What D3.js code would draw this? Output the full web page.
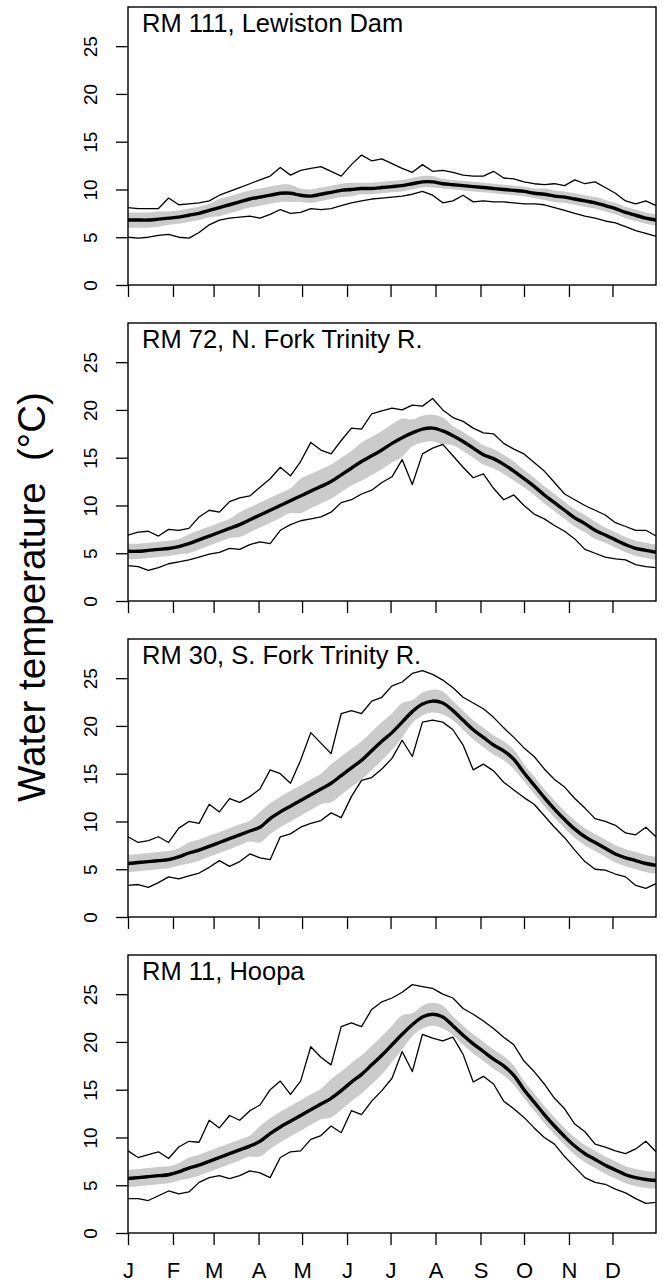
<!DOCTYPE html>
<html>
<head>
<meta charset="utf-8">
<script src="https://cdn.jsdelivr.net/npm/d3@7"></script>
<style>
  html, body { margin: 0; padding: 0; background: #ffffff; }
  svg { display: block; font-family: "Liberation Sans", Arial, sans-serif; }
</style>
</head>
<body>
<svg id="chart" width="662" height="1283"></svg>
<script>
// --- Data (weekly readings, day 1, 8, 15 ... 365) ---
var DAYS = d3.range(1, 366, 7);

var MONTH_LABELS = ['J', 'F', 'M', 'A', 'M', 'J', 'J', 'A', 'S', 'O', 'N', 'D'];
var MONTH_DAYS   = [1, 32, 60, 91, 121, 152, 182, 213, 244, 274, 305, 335];
var Y_TICKS      = [0, 5, 10, 15, 20, 25];

var TITLES = [
  'RM 111, Lewiston Dam',
  'RM 72, N. Fork Trinity R.',
  'RM 30, S. Fork Trinity R.',
  'RM 11, Hoopa'
];

// RM 111, Lewiston Dam
var lewistonMean = [6.8,6.8,6.8,6.9,7.0,7.1,7.3,7.5,7.8,8.1,8.4,8.7,9.0,9.2,9.4,9.6,9.6,9.4,9.3,9.5,9.7,9.9,10.0,10.1,10.1,10.2,10.3,10.4,10.6,10.8,10.8,10.6,10.5,10.4,10.3,10.2,10.1,10.0,9.9,9.8,9.6,9.5,9.3,9.2,9.0,8.8,8.6,8.3,8.0,7.6,7.3,7.0,6.8];
var lewistonMax  = [8.1,8.0,8.0,8.0,9.1,8.4,8.5,8.6,8.8,9.4,9.8,10.2,10.6,11.0,11.4,12.3,11.5,12.0,12.2,12.4,11.9,11.4,12.6,13.6,13.0,13.2,12.7,12.2,11.8,12.6,11.9,12.0,11.8,11.5,11.4,11.4,11.9,11.2,11.1,10.8,10.6,10.5,10.6,10.4,11.0,10.6,10.8,10.2,9.6,8.8,8.5,8.8,8.3];
var lewistonMin  = [5.0,4.9,5.0,5.2,5.3,5.0,4.9,5.5,6.3,6.8,7.0,7.1,7.2,7.0,7.4,7.9,7.5,7.6,8.0,7.9,8.0,8.3,8.6,8.8,9.0,9.1,9.2,9.3,9.5,9.8,9.4,8.6,8.8,9.4,8.7,8.8,8.7,8.7,8.6,8.5,8.5,8.4,8.1,7.8,7.5,7.2,7.0,6.7,6.5,6.1,5.7,5.4,5.1];
var lewistonHi   = [7.6,7.6,7.6,7.7,7.7,7.8,8.0,8.2,8.5,9.0,9.3,9.6,9.9,10.1,10.3,10.5,10.5,10.1,10.0,10.2,10.4,10.6,10.7,10.7,10.7,10.8,10.9,11.0,11.2,11.4,11.4,11.1,11.0,10.9,10.8,10.7,10.6,10.5,10.4,10.3,10.1,10.1,9.9,9.8,9.6,9.4,9.2,8.9,8.6,8.2,7.9,7.6,7.4];
var lewistonLo   = [6.0,6.0,6.0,6.1,6.3,6.4,6.6,6.8,7.1,7.2,7.5,7.8,8.1,8.3,8.5,8.7,8.7,8.7,8.6,8.8,9.0,9.2,9.3,9.5,9.5,9.6,9.7,9.8,10.0,10.2,10.2,10.1,10.0,9.9,9.8,9.7,9.6,9.5,9.4,9.3,9.1,8.9,8.7,8.6,8.4,8.2,8.0,7.7,7.4,7.0,6.7,6.4,6.2];

// RM 72, N. Fork Trinity R.
var nforkMean = [5.2,5.2,5.3,5.4,5.5,5.7,6.0,6.4,6.8,7.2,7.6,8.0,8.5,9.0,9.5,10.0,10.5,11.0,11.5,12.0,12.5,13.2,13.9,14.6,15.2,15.8,16.5,17.1,17.6,18.0,18.1,17.8,17.3,16.7,16.0,15.3,14.9,14.3,13.6,12.8,12.0,11.1,10.3,9.5,8.7,8.1,7.4,6.9,6.4,5.9,5.5,5.3,5.1];
var nforkMax  = [6.9,7.2,7.3,6.8,7.5,7.4,7.6,8.8,9.5,9.3,10.4,10.8,11.0,11.9,12.8,14.0,13.1,14.6,16.6,15.8,15.4,16.8,18.1,18.0,19.6,19.9,20.2,20.0,20.5,20.4,21.2,20.0,19.2,18.8,18.1,17.6,17.5,16.5,15.9,15.4,14.5,13.6,12.4,11.2,10.6,10.0,9.5,9.0,8.2,7.8,7.4,7.4,6.8];
var nforkMin  = [3.7,3.6,3.2,3.5,3.9,4.1,4.3,4.6,4.9,5.1,5.5,5.4,5.9,6.2,6.0,7.4,8.0,8.4,8.6,8.8,9.3,10.3,10.6,11.2,11.6,12.4,13.0,14.8,12.2,15.4,16.0,16.4,15.2,14.0,12.9,13.3,11.8,10.6,11.1,10.0,9.1,8.6,7.9,7.3,6.5,5.4,5.0,4.6,4.4,4.3,3.8,3.6,3.5];
var nforkHi   = [6.0,6.0,6.1,6.2,6.3,6.5,7.0,7.4,7.8,8.2,8.6,9.3,9.8,10.3,10.8,11.3,11.8,12.8,13.3,13.8,14.3,15.0,15.7,16.6,17.2,17.8,18.5,19.1,19.0,19.4,19.5,19.2,18.3,17.7,17.0,16.3,15.9,15.3,14.6,13.7,12.9,12.0,11.2,10.4,9.6,9.0,8.3,7.7,7.2,6.7,6.3,6.1,5.9];
var nforkLo   = [4.4,4.4,4.5,4.6,4.7,4.9,5.0,5.4,5.8,6.2,6.6,6.7,7.2,7.7,8.2,8.7,9.2,9.2,9.7,10.2,10.7,11.4,12.1,12.6,13.2,13.8,14.5,15.1,16.2,16.6,16.7,16.4,16.3,15.7,15.0,14.3,13.9,13.3,12.6,11.9,11.1,10.2,9.4,8.6,7.8,7.2,6.5,6.1,5.6,5.1,4.7,4.5,4.3];

// RM 30, S. Fork Trinity R.
var sforkMean = [5.6,5.7,5.8,5.9,6.0,6.3,6.7,7.0,7.4,7.8,8.2,8.6,9.0,9.4,10.3,11.0,11.6,12.2,12.8,13.4,14.0,14.8,15.6,16.4,17.4,18.4,19.3,20.4,21.5,22.3,22.6,22.4,21.6,20.6,19.6,18.8,18.0,17.4,16.5,15.1,13.8,12.5,11.3,10.2,9.2,8.4,7.8,7.2,6.6,6.2,5.9,5.6,5.4];
var sforkMax  = [8.4,7.8,8.0,8.4,7.8,9.3,10.0,9.8,11.8,11.0,12.4,12.0,12.6,13.4,15.4,15.0,14.0,16.4,19.3,18.2,17.1,21.3,21.6,21.3,22.6,23.0,24.2,24.6,25.5,25.8,25.4,24.8,24.0,23.0,22.4,21.8,20.9,19.8,18.8,17.7,16.8,15.5,14.4,13.6,12.4,11.4,10.3,10.0,9.6,8.8,8.6,9.4,8.4];
var sforkMin  = [3.3,3.4,3.1,3.6,4.2,4.0,4.3,4.6,5.2,5.9,5.3,5.8,6.6,6.2,6.0,8.4,8.7,9.4,9.8,10.1,10.9,10.4,12.6,14.3,14.6,15.5,16.6,18.5,16.8,20.4,20.6,20.4,19.6,18.0,15.4,16.0,15.3,14.1,13.3,12.5,11.8,10.6,9.4,8.3,7.0,5.8,5.0,4.9,4.5,4.2,3.3,3.0,3.5];
var sforkHi   = [6.5,6.6,6.7,6.8,6.9,7.2,7.8,8.1,8.5,8.9,9.3,9.7,10.1,11.0,11.9,12.6,13.2,13.8,14.4,15.0,16.0,16.8,17.6,18.4,19.4,20.4,21.3,22.4,22.7,23.5,23.8,23.6,22.6,21.6,20.6,19.8,19.0,18.4,17.5,16.0,14.7,13.4,12.2,11.1,10.1,9.3,8.7,8.1,7.5,7.1,6.8,6.5,6.3];
var sforkLo   = [4.7,4.8,4.9,5.0,5.1,5.4,5.6,5.9,6.3,6.7,7.1,7.5,7.9,7.8,8.7,9.4,10.0,10.6,11.2,11.8,12.0,12.8,13.6,14.4,15.4,16.4,17.5,18.8,20.3,21.1,21.4,21.2,20.6,19.6,18.6,17.8,17.0,16.4,15.5,14.2,12.9,11.6,10.4,9.3,8.3,7.5,6.9,6.3,5.7,5.3,5.0,4.7,4.5];

// RM 11, Hoopa
var hoopaMean = [5.7,5.8,5.9,6.0,6.1,6.4,6.8,7.1,7.5,7.9,8.3,8.7,9.1,9.6,10.4,11.1,11.7,12.3,12.9,13.5,14.1,14.9,15.8,16.6,17.6,18.6,19.7,20.8,21.8,22.6,22.9,22.6,21.7,20.7,19.8,19.0,18.2,17.5,16.5,15.0,13.7,12.4,11.2,10.1,9.1,8.3,7.7,7.1,6.6,6.1,5.8,5.6,5.5];
var hoopaMax  = [8.6,7.9,8.2,8.5,7.8,9.0,9.6,9.5,11.8,11.0,12.3,11.8,12.8,13.4,15.0,15.9,14.5,15.9,19.5,18.4,17.6,21.6,22.0,21.6,23.4,24.2,24.6,25.2,26.0,25.8,25.6,25.0,24.6,23.5,22.9,22.2,21.4,20.5,19.7,18.0,16.9,15.6,14.1,13.0,11.4,10.6,9.3,9.0,8.6,8.3,8.8,9.6,8.5];
var hoopaMin  = [3.6,3.6,3.4,3.9,4.4,4.1,4.3,5.3,5.8,6.0,5.7,6.0,6.5,6.3,5.8,7.9,8.5,8.6,9.8,10.2,11.2,10.5,12.8,12.4,13.8,14.9,16.2,19.0,16.9,20.8,20.4,20.1,20.5,18.7,15.8,16.4,15.6,13.8,13.0,12.1,11.0,10.0,9.3,8.0,6.9,5.8,5.3,5.1,4.6,4.2,3.6,3.1,3.2];
var hoopaHi   = [6.6,6.7,6.8,6.9,7.0,7.3,7.9,8.2,8.6,9.0,9.4,9.8,10.2,11.2,12.0,12.7,13.3,13.9,14.5,15.1,16.1,16.9,17.8,18.6,19.6,20.6,21.7,22.8,23.0,23.8,24.1,23.8,22.7,21.7,20.8,20.0,19.2,18.5,17.5,15.9,14.6,13.3,12.1,11.0,10.0,9.2,8.6,8.0,7.5,7.0,6.7,6.5,6.4];
var hoopaLo   = [4.8,4.9,5.0,5.1,5.2,5.5,5.7,6.0,6.4,6.8,7.2,7.6,8.0,8.0,8.8,9.5,10.1,10.7,11.3,11.9,12.1,12.9,13.8,14.6,15.6,16.6,17.9,19.2,20.6,21.4,21.7,21.4,20.7,19.7,18.8,18.0,17.2,16.5,15.5,14.1,12.8,11.5,10.3,9.2,8.2,7.4,6.8,6.2,5.7,5.2,4.9,4.7,4.6];

var PANELS = [
  { mean: lewistonMean, max: lewistonMax, min: lewistonMin, hi: lewistonHi, lo: lewistonLo },
  { mean: nforkMean,    max: nforkMax,    min: nforkMin,    hi: nforkHi,    lo: nforkLo },
  { mean: sforkMean,    max: sforkMax,    min: sforkMin,    hi: sforkHi,    lo: sforkLo },
  { mean: hoopaMean,    max: hoopaMax,    min: hoopaMin,    hi: hoopaHi,    lo: hoopaLo }
];

// --- Layout ---
var LEFT = 128, RIGHT = 656;
var TOP0 = 7, PANEL_H = 278, PANEL_STEP = 316;
var Y_MAX = 29.1;
var BAND_COLOR = '#cbcbcb';

var svg = d3.select('#chart');
var x = d3.scaleLinear().domain([1, 365]).range([LEFT, RIGHT]);

PANELS.forEach(function (p, i) {
  var top = TOP0 + i * PANEL_STEP;
  var bottom = top + PANEL_H;
  var y = d3.scaleLinear().domain([0, Y_MAX]).range([bottom, top]);
  var g = svg.append('g').attr('class', 'panel');

  var band = d3.area()
    .x(function (d, j) { return x(DAYS[j]); })
    .y0(function (d, j) { return y(p.lo[j]); })
    .y1(function (d, j) { return y(p.hi[j]); })
    .curve(d3.curveCatmullRom);

  var jagged = d3.line()
    .x(function (d, j) { return x(DAYS[j]); })
    .y(function (d) { return y(d); });

  var smooth = d3.line()
    .x(function (d, j) { return x(DAYS[j]); })
    .y(function (d) { return y(d); })
    .curve(d3.curveCatmullRom);

  g.append('path').attr('d', band(p.mean)).attr('fill', BAND_COLOR);

  [p.max, p.min].forEach(function (s) {
    g.append('path').attr('d', jagged(s))
      .attr('fill', 'none').attr('stroke', '#000')
      .attr('stroke-width', 1.3).attr('stroke-linejoin', 'round');
  });

  g.append('path').attr('d', smooth(p.mean))
    .attr('fill', 'none').attr('stroke', '#000')
    .attr('stroke-width', 3.4).attr('stroke-linejoin', 'round');

  // y axis, labels parallel to the axis (R style)
  var ya = g.append('g')
    .attr('transform', 'translate(' + LEFT + ',0)')
    .call(d3.axisLeft(y).tickValues(Y_TICKS).tickSize(12).tickSizeOuter(0));
  ya.select('.domain').remove();
  ya.selectAll('line').attr('stroke-width', 1.3);
  ya.selectAll('text')
    .attr('x', null).attr('dy', null)
    .attr('text-anchor', 'middle')
    .attr('transform', 'translate(-31,0) rotate(-90)')
    .attr('font-size', 19).attr('font-family', null).attr('fill', '#000');

  // x axis: ticks on every panel, month letters on the last one
  var last = i === PANELS.length - 1;
  var xa = g.append('g')
    .attr('transform', 'translate(0,' + bottom + ')')
    .call(d3.axisBottom(x).tickValues(MONTH_DAYS).tickSize(12).tickSizeOuter(0)
      .tickFormat(function (d, j) { return last ? MONTH_LABELS[j] : ''; }));
  xa.select('.domain').remove();
  xa.selectAll('line').attr('stroke-width', 1.3);
  xa.selectAll('text')
    .attr('y', 45).attr('dy', null)
    .attr('font-size', 22).attr('font-family', null).attr('fill', '#000');

  g.append('rect')
    .attr('x', LEFT).attr('y', top)
    .attr('width', RIGHT - LEFT).attr('height', PANEL_H)
    .attr('fill', 'none').attr('stroke', '#000').attr('stroke-width', 1.4);

  g.append('text')
    .attr('x', LEFT + 14).attr('y', top + 25)
    .attr('font-size', 25.5).attr('fill', '#000')
    .text(TITLES[i]);
});

svg.append('text')
  .attr('transform', 'translate(45,597) rotate(-90)')
  .attr('text-anchor', 'middle')
  .attr('font-size', 38.5).attr('fill', '#000')
  .style('white-space', 'pre')
  .text('Water temperature  (\u00B0C)');
</script>
</body>
</html>
